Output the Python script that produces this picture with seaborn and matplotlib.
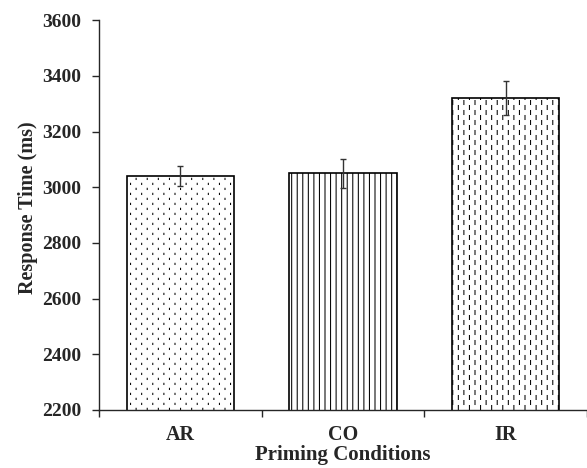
import warnings
import numpy as np
import matplotlib
matplotlib.use('Agg')
import matplotlib.pyplot as plt
import matplotlib.hatch as mhatch
from matplotlib.path import Path
import pandas as pd
import seaborn as sns

warnings.filterwarnings('ignore')

# Data
conditions = ['AR', 'CO', 'IR']
mean_rt = [3040, 3050, 3320]
err_rt = [35, 53, 60]
hatches = [',', '|||', ':']


# Custom hatch: staggered columns of short vertical strokes
# ':' -> short dashes, ',' -> tiny dots
class StrokeHatch(mhatch.HatchPatternBase):
    def __init__(self, hatch, density):
        self.length = 0.04 if ':' in hatch else 0.012
        on = (':' in hatch) or (',' in hatch)
        self.cols = 18 if on else 0
        self.rows = 10 if on else 0
        self.num_vertices = self.cols * self.rows * 2

    def set_vertices_and_codes(self, vertices, codes):
        k = 0
        for i in range(self.cols):
            x = (i + 0.5) / self.cols
            off = 0.05 if i % 2 else 0.0
            for j in range(self.rows):
                y0 = j / self.rows + off + 0.005
                vertices[k] = (x, y0)
                vertices[k + 1] = (x, y0 + self.length)
                codes[k] = Path.MOVETO
                codes[k + 1] = Path.LINETO
                k += 2


mhatch._hatch_types.append(StrokeHatch)

sns.set_style('ticks')
plt.rcParams['font.family'] = ['Liberation Serif', 'DejaVu Serif']
plt.rcParams['font.weight'] = 'bold'
plt.rcParams['hatch.linewidth'] = 0.75

df = pd.DataFrame({'condition': conditions, 'rt': mean_rt, 'err': err_rt})

fig = plt.figure(figsize=(5.87, 4.68), dpi=100)
ax = fig.add_axes([0.1687, 0.124, 0.8313, 0.833])

sns.barplot(data=df, x='condition', y='rt', color='white', edgecolor='black',
            linewidth=1.2, width=0.66, errorbar=None, ax=ax)
for bar, h in zip(ax.patches, hatches):
    bar.set_hatch(h)

ax.errorbar(range(len(conditions)), df['rt'], yerr=df['err'], fmt='none',
            ecolor='#333333', elinewidth=1.0, capsize=2.5, capthick=1.0)

ax.set_ylim(2200, 3600)
ax.set_yticks(np.arange(2200, 3601, 200))
ax.set_xlim(-0.5, 2.5)
ax.set_xticks([-0.5, 0.5, 1.5, 2.5], minor=True)
ax.tick_params(axis='x', which='major', length=0, pad=10.5, labelsize=14.5)
ax.tick_params(axis='x', which='minor', length=5, width=1, direction='out')
ax.tick_params(axis='y', length=5, width=1, pad=8, labelsize=14)

ax.set_xlabel('Priming Conditions', fontsize=15, fontweight='bold', labelpad=0)
ax.set_ylabel('Response Time (ms)', fontsize=14.5, fontweight='bold', labelpad=5)
ax.yaxis.set_label_coords(-0.125, 0.52)

for side in ['top', 'right']:
    ax.spines[side].set_visible(False)
for side in ['left', 'bottom']:
    ax.spines[side].set_linewidth(1.0)

fig.savefig('out.png', dpi=100)
